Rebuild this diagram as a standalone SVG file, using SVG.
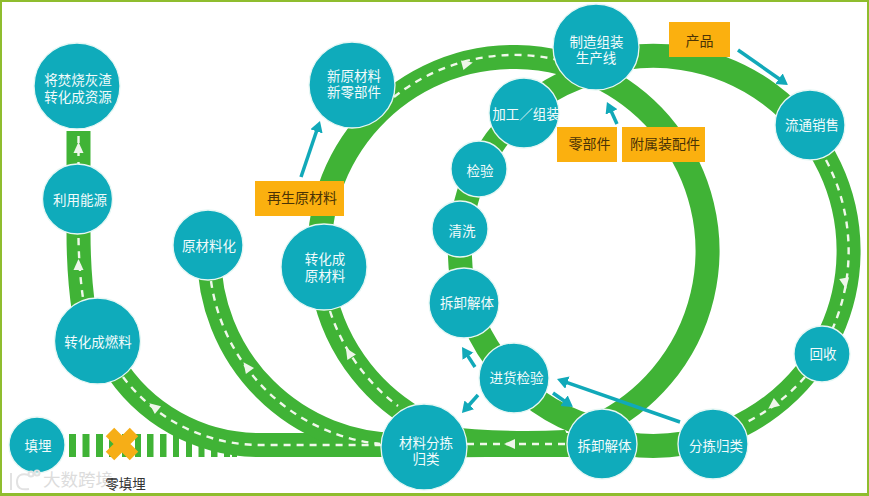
<svg xmlns="http://www.w3.org/2000/svg" width="869" height="496" viewBox="0 0 869 496">
<style>
.band{fill:none;stroke:#40b336;stroke-width:24}
.dash{fill:none;stroke:#f0f8ea;stroke-width:2.4;stroke-dasharray:7 6}
.tip{fill:#eef6ea}
.arr{fill:none;stroke:#11a9b9;stroke-width:3.5;marker-end:url(#ah)}
.stripe{fill:#40b336}
.n{fill:#0fabbb;stroke:#e6f7f4;stroke-width:1.3}
.box{fill:#fbb00f}
text{font-family:"Liberation Sans","Noto Sans CJK SC",sans-serif;font-size:13.5px;text-anchor:middle}
.w{fill:#f2fbfb}
.d{fill:#4a3306;font-size:14px}
</style>
<defs>
<marker id="ah" markerUnits="userSpaceOnUse" markerWidth="14" markerHeight="14" refX="7" refY="6.500" orient="auto"><path d="M0 0L11 6.500L0 13Z" fill="#11a9b9"/></marker>
<polygon id="tri" points="-5,5 5,5 0,-6"/>
</defs>
<rect width="869" height="496" fill="#fff"/>
<rect x="0.5" y="0.5" width="868" height="494" fill="none" stroke="#8fbd2e" stroke-width="3"/>
<g id="connectors">
<g id="stripes">
<rect class="stripe" x="69" y="434" width="7" height="23"/><rect class="stripe" x="82.500" y="434" width="7" height="23"/><rect class="stripe" x="96" y="434" width="7" height="23"/><rect class="stripe" x="109" y="434" width="7" height="23"/><rect class="stripe" x="122" y="434" width="7" height="23"/><rect class="stripe" x="135" y="434" width="6" height="23"/><rect class="stripe" x="147" y="434" width="6.500" height="23"/><rect class="stripe" x="160" y="434" width="6.500" height="23"/><rect class="stripe" x="173" y="434" width="6" height="23"/><rect class="stripe" x="186" y="434" width="6" height="23"/><rect class="stripe" x="198.500" y="434" width="6" height="23"/><rect class="stripe" x="211" y="434" width="6.500" height="23"/><rect class="stripe" x="224" y="434" width="6" height="23"/><rect class="stripe" x="232" y="434" width="5" height="23"/>
</g>
<path d="M66.500 131H90.500V170H66.500Z" fill="#40b336"/>
<path class="band" d="M78.500 232Q78.500 275 84 312"/>
<path class="band" d="M112 362A172 172 0 0 0 260 445H400"/>
<path class="band" d="M209 254A191 191 0 0 0 400 445"/>
<path class="band" d="M424 423A194 194 0 1 1 597 426"/>
<path class="band" d="M598 64A195 195 0 1 1 600 438.400"/>
<path class="band" d="M590 73.300A185 185 0 0 0 590 426.700"/>
<path class="band" d="M400 445H605"/>
<path d="M440 426Q500 433 565 430L575 452Q520 458 440 457Z" fill="#40b336"/>
<path class="dash" d="M78.500 136V165"/>
<path class="dash" d="M78.500 238Q79 270 83 298"/>
<path class="dash" d="M123 377A172 172 0 0 0 260 445H382"/>
<path class="dash" d="M211 281A191 191 0 0 0 380 444"/>
<path class="dash" d="M330 311A194 194 0 0 0 398 406"/>
<path class="dash" d="M394 97A194 194 0 0 1 557 59.600"/>
<path class="dash" d="M826 160A195 195 0 0 1 832 330"/>
<path class="dash" d="M805 377A195 195 0 0 1 745 423"/>
<path class="dash" d="M467 444H568"/>
<use href="#tri" class="tip" transform="translate(78.500 148)"/>
<use href="#tri" class="tip" transform="translate(78.500 265)"/>
<use href="#tri" class="tip" transform="translate(154 407) rotate(-52)"/>
<use href="#tri" class="tip" transform="translate(247 367) rotate(-36)"/>
<use href="#tri" class="tip" transform="translate(349 353) rotate(-32)"/>
<use href="#tri" class="tip" transform="translate(467 64) rotate(75)"/>
<use href="#tri" class="tip" transform="translate(845 283) rotate(170)"/>
<use href="#tri" class="tip" transform="translate(773 405) rotate(-128)"/>
<use href="#tri" class="tip" transform="translate(510 444) rotate(-90)"/>
<path class="arr" d="M301 177L318.700 124.800"/>
<path class="arr" d="M738 50L784.700 82.700"/>
<path class="arr" d="M617 124L608.600 105.600"/>
<path class="arr" d="M475 367L464.200 350.400"/>
<path class="arr" d="M478 395L464.600 410"/>
<path class="arr" d="M553 393L569.700 404.700"/>
<path class="arr" d="M680 422L560.800 380.300"/>
</g>
<g id="n-ash"><circle class="n" cx="77" cy="86" r="43"/><text class="w" x="78" y="85">将焚烧灰渣</text><text class="w" x="78" y="102">转化成资源</text></g>
<g id="n-energy"><circle class="n" cx="77.500" cy="199" r="35"/><text class="w" x="80" y="205">利用能源</text></g>
<g id="n-fuel"><circle class="n" cx="97.500" cy="341" r="43"/><text class="w" x="98" y="347">转化成燃料</text></g>
<g id="n-landfill"><circle class="n" cx="37" cy="445" r="28"/><text class="w" x="38" y="451">填埋</text></g>
<g id="n-rawize"><circle class="n" cx="208" cy="245" r="35"/><text class="w" x="209" y="251">原材料化</text></g>
<g id="n-toraw"><circle class="n" cx="324" cy="267" r="43"/><text class="w" x="325" y="264">转化成</text><text class="w" x="325" y="281">原材料</text></g>
<g id="n-new"><circle class="n" cx="352" cy="85" r="43"/><text class="w" x="354" y="81">新原材料</text><text class="w" x="354" y="97">新零部件</text></g>
<g id="n-sort"><circle class="n" cx="424" cy="447" r="43"/><text class="w" x="426" y="448">材料分拣</text><text class="w" x="426" y="464">归类</text></g>
<g id="n-dis2"><circle class="n" cx="602" cy="444" r="35"/><text class="w" x="604.500" y="451">拆卸解体</text></g>
<g id="n-sort2"><circle class="n" cx="713" cy="444" r="35"/><text class="w" x="716" y="451">分拣归类</text></g>
<g id="n-recycle"><circle class="n" cx="822" cy="354" r="28"/><text class="w" x="823" y="359">回收</text></g>
<g id="n-incoming"><circle class="n" cx="514" cy="378" r="35"/><text class="w" x="516.500" y="383">进货检验</text></g>
<g id="n-sales"><circle class="n" cx="810" cy="125" r="35"/><text class="w" x="812" y="130">流通销售</text></g>
<g id="n-line"><circle class="n" cx="596" cy="47" r="43"/><text class="w" x="596.500" y="47">制造组装</text><text class="w" x="596" y="63">生产线</text></g>
<g id="n-process"><circle class="n" cx="524" cy="113" r="35"/><text class="w" x="526" y="119">加工／组装</text></g>
<g id="n-inspect"><circle class="n" cx="479" cy="169" r="28"/><text class="w" x="480" y="176">检验</text></g>
<g id="n-wash"><circle class="n" cx="460" cy="229" r="28"/><text class="w" x="462" y="236">清洗</text></g>
<g id="n-dis1"><circle class="n" cx="464" cy="303" r="35"/><text class="w" x="467" y="308">拆卸解体</text></g>
<g id="b-product"><rect class="box" x="669" y="22" width="61" height="35"/><text class="d" x="699.500" y="46">产品</text></g>
<g id="b-parts"><rect class="box" x="557" y="127" width="60" height="35"/><text class="d" x="589.500" y="149">零部件</text></g>
<g id="b-acc"><rect class="box" x="622" y="127" width="83" height="35"/><text class="d" x="665" y="149">附属装配件</text></g>
<g id="b-recycled"><rect class="box" x="255" y="181" width="89" height="35"/><text class="d" x="302" y="203">再生原材料</text></g>
<g id="cross"><path d="M110 432L134 456M134 432L110 456" stroke="#f6ae17" stroke-width="12" fill="none"/></g>
<text x="78" y="486" style="font-size:17.500px;fill:#dcdcdc">大数跨境</text>
<g fill="none" stroke="#e2e2e2" stroke-width="2"><path d="M11 473V490M29 475Q17 472 17 482Q17 491 29 489"/><circle cx="31" cy="474" r="2.500"/><circle cx="37" cy="473" r="2.500"/></g>
<text x="125.500" y="489" style="fill:#333">零填埋</text>
</svg>
